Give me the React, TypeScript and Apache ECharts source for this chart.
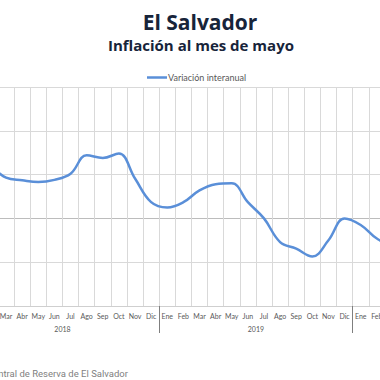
import React, { useEffect, useRef } from "react";
import * as echarts from "echarts";

const months = [
  "Ene", "Feb", "Mar", "Abr", "May", "Jun", "Jul", "Ago", "Sep", "Oct", "Nov", "Dic",
  "Ene", "Feb", "Mar", "Abr", "May", "Jun", "Jul", "Ago", "Sep", "Oct", "Nov", "Dic",
  "Ene", "Feb", "Mar", "Abr", "May",
];
const inflation = [
  1.4, 1.2, 0.93, 0.87, 0.83, 0.88, 1.02, 1.44, 1.38, 1.48, 0.91, 0.37,
  0.25, 0.37, 0.64, 0.78, 0.8, 0.37, 0.0, -0.54, -0.69, -0.87, -0.5, 0.0,
  -0.15, -0.46, -0.6, -0.5, -0.3,
];
const years = ["2018", "2019", "2020"];
const yearCenters = [6, 18, 26.5];

const SHIFT = 40; // inner chart is offset left by this many px
const INNER_W = 540;

export default function App() {
  const ref = useRef<HTMLDivElement>(null);
  useEffect(() => {
    if (!ref.current) return;
    const chart = echarts.init(ref.current, null, { renderer: "svg" });
    const cell = 16.12;
    chart.setOption({
      animation: false,
      backgroundColor: "#ffffff",
      textStyle: { fontFamily: "Lato" },
      graphic: [
        {
          type: "text",
          x: 200 + SHIFT,
          y: 22,
          style: {
            text: "El Salvador",
            fontFamily: "Open Sans",
            fontWeight: "bold",
            fontSize: 21,
            fill: "#17243a",
            align: "center",
            verticalAlign: "middle",
          },
        },
        {
          type: "text",
          x: 201 + SHIFT,
          y: 45,
          style: {
            text: "Inflación al mes de mayo",
            fontFamily: "Open Sans",
            fontWeight: "bold",
            fontSize: 15,
            fill: "#17243a",
            align: "center",
            verticalAlign: "middle",
          },
        },
        {
          type: "text",
          x: 128 + SHIFT,
          y: 373,
          style: {
            text: "Fuente: Banco Central de Reserva de El Salvador",
            fontFamily: "Roboto",
            fontSize: 9.5,
            fill: "#7f7f7f",
            align: "right",
            verticalAlign: "middle",
          },
        },
      ],
      legend: {
        left: 142 + SHIFT,
        top: 68,
        itemWidth: 20,
        itemHeight: 2.5,
        itemGap: 0,
        icon: "rect",
        textStyle: { fontSize: 9, color: "#595959", fontFamily: "Lato", padding: [0, 0, 0, -4] },
        data: ["Variación interanual"],
      },
      grid: {
        left: SHIFT - 2 - 2 * cell,
        top: 87,
        width: cell * months.length,
        height: 219,
      },
      xAxis: [
        {
          type: "category",
          data: months,
          boundaryGap: true,
          axisLine: { show: true, onZero: false, lineStyle: { color: "#cfcfcf", width: 1 } },
          axisTick: {
            show: true,
            interval: (i: number) => i % 12 === 0,
            length: 27,
            lineStyle: { color: "#7f7f7f", width: 1 },
          },
          axisLabel: {
            interval: 0,
            fontSize: 7,
            color: "#595959",
            fontFamily: "Lato",
            margin: 6,
          },
          splitLine: { show: true, interval: 0, lineStyle: { color: "#d9d9d9", width: 1 } },
        },
        {
          type: "value",
          position: "bottom",
          min: 0,
          max: months.length,
          interval: 0.5,
          axisLine: { show: false, onZero: false },
          axisTick: { show: false },
          splitLine: { show: false },
          axisLabel: {
            margin: 19,
            fontSize: 7,
            color: "#595959",
            fontFamily: "Lato",
            showMinLabel: false,
            showMaxLabel: false,
            formatter: (v: number) => {
              for (let k = 0; k < yearCenters.length; k++) {
                if (Math.abs(v - yearCenters[k]) < 0.01) return years[k];
              }
              return "";
            },
          },
        },
      ],
      yAxis: {
        type: "value",
        min: -2,
        max: 3,
        interval: 1,
        axisLabel: { show: false },
        axisLine: { show: false },
        axisTick: { show: false },
        splitLine: {
          show: true,
          lineStyle: {
            color: ["#d9d9d9", "#d9d9d9", "#bcbcbc", "#d9d9d9", "#d9d9d9", "#d9d9d9"],
            width: 1,
          },
        },
      },
      series: [
        {
          name: "Variación interanual",
          type: "line",
          data: inflation,
          smooth: 0.4,
          symbol: "none",
          lineStyle: { color: "#5a8fd8", width: 2.5 },
          itemStyle: { color: "#5a8fd8" },
        },
      ],
    });
    return () => chart.dispose();
  }, []);
  return (
    <div
      style={{
        position: "fixed",
        left: 0,
        top: 0,
        width: 380,
        height: 380,
        overflow: "hidden",
        background: "#ffffff",
      }}
    >
      <div
        ref={ref}
        style={{ position: "absolute", left: -SHIFT, top: 0, width: INNER_W, height: 380 }}
      />
    </div>
  );
}
